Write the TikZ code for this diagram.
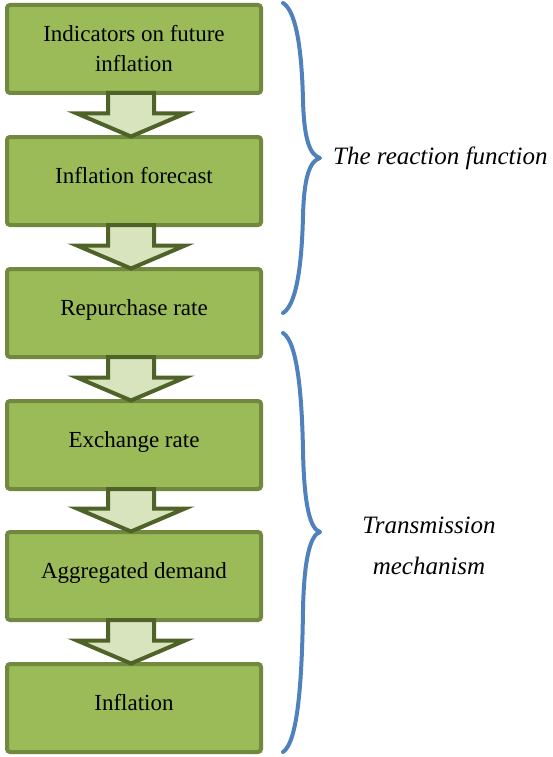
\documentclass[tikz,border=0pt]{standalone}
\usepackage{fontspec}
\setmainfont{Liberation Serif}
\usetikzlibrary{calc}
\definecolor{boxfill}{HTML}{9BBB59}
\definecolor{boxline}{HTML}{71893F}
\definecolor{arrfill}{HTML}{D7E4BD}
\definecolor{arrline}{HTML}{4F6228}
\definecolor{bracecol}{HTML}{4F81BD}
\tikzset{
  stepbox/.style={draw=boxline, fill=boxfill, line width=4pt, rounded corners=3pt,
    minimum width=254pt, minimum height=88pt, inner sep=0pt, align=center,
    font=\fontsize{23}{30}\selectfont},
  oneline/.style={text depth=11pt},
  fatarr/.style={draw=arrline, fill=arrfill, line width=4pt, line join=miter},
  bracepath/.style={draw=bracecol, line width=4pt, line cap=round, line join=round},
  bracelabel/.style={font=\fontsize{25}{41}\selectfont\itshape, align=center, inner sep=0pt}
}
\newcommand\fatarrow[2]{%
  \draw[fatarr] let \p1=($(#1.south)+(-3,-2)$), \p2=($(#2.north)+(-3,1.5)$) in
    (\x1-23pt,\y1) -- (\x1+23pt,\y1) -- (\x1+23pt,\y2+23pt) -- (\x1+54pt,\y2+23pt)
    -- (\x1,\y2) -- (\x1-54pt,\y2+23pt) -- (\x1-23pt,\y2+23pt) -- cycle;}
\begin{document}
\begin{tikzpicture}[x=1pt,y=-1pt]
\useasboundingbox (0,0) rectangle (553,757);
\node[stepbox] (b1) at (134,49) {Indicators on future\\inflation};
\node[stepbox, oneline] (b2) at (134,181) {Inflation forecast};
\node[stepbox, oneline] (b3) at (134,313) {Repurchase rate};
\node[stepbox, oneline] (b4) at (134,445) {Exchange rate};
\node[stepbox, oneline] (b5) at (134,576) {Aggregated demand};
\node[stepbox, oneline] (b6) at (134,708) {Inflation};
\fatarrow{b1}{b2}
\fatarrow{b2}{b3}
\fatarrow{b3}{b4}
\fatarrow{b4}{b5}
\fatarrow{b5}{b6}
% braces
\draw[bracepath] (283,3) .. controls (298,12) and (302,60) .. (303,100)
  .. controls (304,140) and (310,155) .. (320,158)
  .. controls (310,161) and (304,176) .. (303,216)
  .. controls (302,256) and (298,304) .. (283,313);
\draw[bracepath] (283,333) .. controls (298,342) and (302,400) .. (303,450)
  .. controls (304,505) and (310,529) .. (320,532)
  .. controls (310,535) and (304,560) .. (303,610)
  .. controls (302,680) and (298,742) .. (283,752);
\node[bracelabel, anchor=base west] (rf) at (333,164) {The reaction function};
\node[bracelabel] (tm) at (429,546) {Transmission\\mechanism};
\end{tikzpicture}
\end{document}
